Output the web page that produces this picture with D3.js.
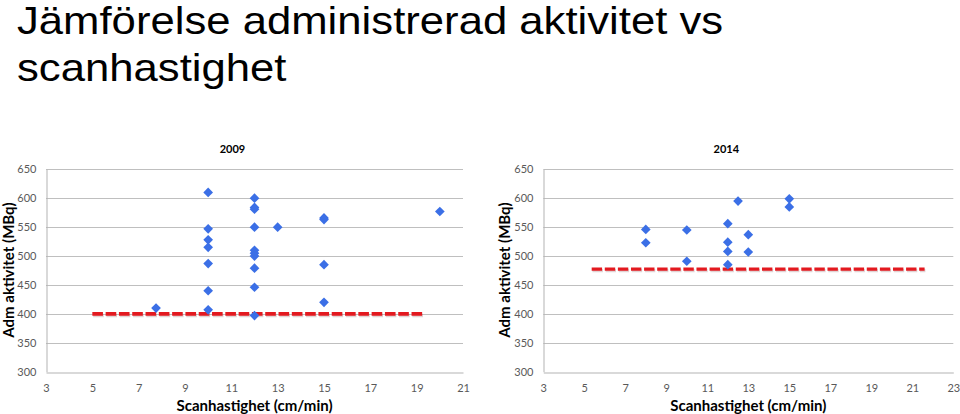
<!DOCTYPE html>
<html>
<head>
<meta charset="utf-8">
<script src="https://cdn.jsdelivr.net/npm/d3@7"></script>
<style>
  html, body { margin: 0; padding: 0; background: #fff; }
  svg { display: block; }
</style>
</head>
<body>
<svg id="chart" width="960" height="414"></svg>
<script>
// ---- data ----
const mainTitleLines = ["Jämförelse administrerad aktivitet vs", "scanhastighet"];
const panelTitles = ["2009", "2014"];
const xAxisTitle = "Scanhastighet (cm/min)";
const yAxisTitle = "Adm aktivitet (MBq)";

const yTicks = [300, 350, 400, 450, 500, 550, 600, 650];
const xTicks2009 = [3, 5, 7, 9, 11, 13, 15, 17, 19, 21];
const xTicks2014 = [3, 5, 7, 9, 11, 13, 15, 17, 19, 21, 23];

const x2009 = [7.75, 10, 10, 10, 10, 10, 10, 10, 12, 12, 12, 12, 12, 12, 12, 12, 12, 12, 13, 15, 15, 15, 15, 20];
const y2009 = [410, 610, 547, 528, 515, 487, 440, 407, 600, 584, 581, 550, 510, 505, 500, 479, 446, 397, 550, 566, 563, 485, 420, 577];

const x2014 = [8, 8, 10, 10, 12, 12, 12, 12, 12.5, 13, 13, 15, 15];
const y2014 = [546, 523, 545, 491, 556, 524, 508, 485, 595, 537, 507, 599, 585];

const refX2009 = [5, 19.35];
const refY2009 = [400, 400];
const refX2014 = [5.36, 21.6];
const refY2014 = [477.5, 477.5];

// ---- drawing ----
const svg = d3.select("#chart");
const axisFont = "Lato, 'Open Sans', sans-serif";

svg.append("g").selectAll("text").data(mainTitleLines).join("text")
  .attr("transform", (d, i) => `translate(17,${34 + i * 47}) scale(1.12,1)`)
  .attr("font-family", "'Liberation Sans', Arial, sans-serif")
  .attr("font-size", 39)
  .attr("fill", "#000")
  .text(d => d);

const panels = [
  { title: panelTitles[0], xs: x2009, ys: y2009, xTicks: xTicks2009, domain: [3, 21],
    range: [46, 463], refX: refX2009, refY: refY2009, yTitleX: 14, dash: "10.6,2.7", lw: 3.6 },
  { title: panelTitles[1], xs: x2014, ys: y2014, xTicks: xTicks2014, domain: [3, 23],
    range: [543.3, 953.3], refX: refX2014, refY: refY2014, yTitleX: 510, dash: "10.4,2.7", lw: 3.3 }
];

const y = d3.scaleLinear().domain([300, 650]).range([371.7, 169.3]);

panels.forEach(p => {
  const x = d3.scaleLinear().domain(p.domain).range(p.range);
  const g = svg.append("g");

  // gridlines
  g.append("g").selectAll("line").data(yTicks.filter(t => t > 300)).join("line")
    .attr("x1", p.range[0]).attr("x2", p.range[1])
    .attr("y1", d => Math.round(y(d)) + 0.5).attr("y2", d => Math.round(y(d)) + 0.5)
    .attr("stroke", "#bfbfbf").attr("stroke-width", 1);

  // y axis
  const yAxis = d3.axisLeft(y).tickValues(yTicks).tickSize(0).tickPadding(10);
  const ya = g.append("g").attr("transform", `translate(${Math.round(p.range[0]) + 0.5},0)`).call(yAxis);
  ya.select(".domain").attr("stroke", "#b3b3b3");
  ya.selectAll("text").attr("font-family", axisFont).attr("font-size", 11).attr("fill", "#595959");

  // x axis
  const xAxis = d3.axisBottom(x).tickValues(p.xTicks).tickSize(0).tickPadding(12);
  const xa = g.append("g").attr("transform", `translate(0,${Math.round(y(300)) + 0.5})`).call(xAxis);
  xa.select(".domain").attr("stroke", "#b3b3b3");
  xa.selectAll("text").attr("font-family", axisFont).attr("font-size", 11).attr("fill", "#595959");

  // titles
  const cx = (p.range[0] + p.range[1]) / 2;
  g.append("text").attr("x", cx - 22).attr("y", 153)
    .attr("text-anchor", "middle").attr("font-family", axisFont)
    .attr("font-weight", "bold").attr("font-size", 11).attr("fill", "#000").text(p.title);
  g.append("text").attr("x", cx).attr("y", 411)
    .attr("text-anchor", "middle").attr("font-family", axisFont)
    .attr("font-weight", "bold").attr("font-size", 15).attr("fill", "#000").text(xAxisTitle);
  g.append("text").attr("transform", `translate(${p.yTitleX},270) rotate(-90)`)
    .attr("text-anchor", "middle").attr("font-family", axisFont)
    .attr("font-weight", "bold").attr("font-size", 15).attr("fill", "#000").text(yAxisTitle);

  // reference dashed line (with soft shadow)
  const refData = p.refX.map((v, i) => [v, p.refY[i]]);
  const line = d3.line().x(d => x(d[0])).y(d => y(d[1]));
  g.append("path").datum(refData).attr("d", line)
    .attr("transform", "translate(0.8,1.6)")
    .attr("fill", "none").attr("stroke", "rgba(120,60,60,0.22)")
    .attr("stroke-width", p.lw).attr("stroke-dasharray", p.dash);
  g.append("path").datum(refData).attr("d", line)
    .attr("fill", "none").attr("stroke", "#e3191f")
    .attr("stroke-width", p.lw).attr("stroke-dasharray", p.dash);

  // points
  const pts = p.xs.map((v, i) => [v, p.ys[i]]);
  const sym = d3.symbol().type(d3.symbolDiamond2).size(60);
  g.append("g").selectAll("path").data(pts).join("path")
    .attr("transform", d => `translate(${x(d[0])},${y(d[1])})`)
    .attr("d", sym)
    .attr("fill", "#3b6fe6");
});
</script>
</body>
</html>
